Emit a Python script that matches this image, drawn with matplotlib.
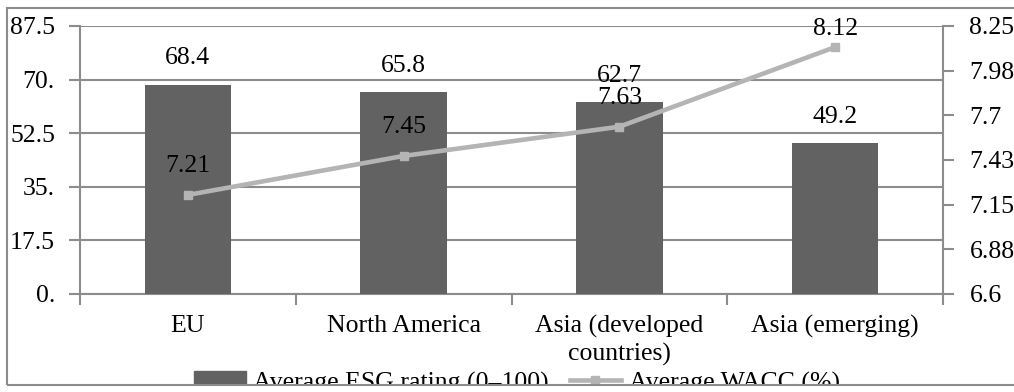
import matplotlib
matplotlib.use("Agg")
import matplotlib.pyplot as plt
from matplotlib.patches import Rectangle
from matplotlib.lines import Line2D

# Data
regions = ["EU", "North America", "Asia (developed\ncountries)", "Asia (emerging)"]
esg_rating = [68.4, 65.8, 62.7, 49.2]
wacc = [7.21, 7.45, 7.63, 8.12]
left_ticks = [0, 17.5, 35, 52.5, 70, 87.5]
left_tick_labels = ["0.", "17.5", "35.", "52.5", "70.", "87.5"]
right_ticks = [6.6, 6.875, 7.15, 7.425, 7.7, 7.975, 8.25]
right_tick_labels = ["6.6", "6.88", "7.15", "7.43", "7.7", "7.98", "8.25"]

plt.rcParams["font.family"] = ["Liberation Serif", "DejaVu Serif"]
FS = 18.5
GRID = "#8c8c8c"
BAR = "#626262"
LINE = "#b4b4b4"

W, H = 1014, 392
fig = plt.figure(figsize=(W / 100, H / 100), dpi=100)
ax = fig.add_axes([80 / W, 1 - 294 / H, (943 - 80) / W, (294 - 26) / H])

x = list(range(len(regions)))
ax.bar(x, esg_rating, width=0.4, color=BAR, zorder=3)
ax.set_xlim(-0.5, len(regions) - 0.5)
ax.set_ylim(0, 87.5)
ax.set_yticks(left_ticks)
ax.set_yticklabels(left_tick_labels, fontsize=FS)
ax.set_xticks(x)
ax.set_xticklabels(regions, fontsize=FS, linespacing=1.3)
ax.set_xticks([i - 0.5 for i in range(len(regions) + 1)], minor=True)
ax.tick_params(axis="x", which="major", length=0, pad=15)
ax.tick_params(axis="x", which="minor", length=8, width=1.5, color=GRID)
ax.tick_params(axis="y", length=8, width=1.5, color=GRID, pad=10)
ax.grid(axis="y", color=GRID, linewidth=1.5, zorder=0)
ax.set_axisbelow(True)
for side in ["top", "right"]:
    ax.spines[side].set_visible(False)
for side in ["left", "bottom"]:
    ax.spines[side].set_color(GRID)
    ax.spines[side].set_linewidth(1.5)

for xi, v in zip(x, esg_rating):
    ax.annotate(f"{v}", (xi, v), xytext=(0, 19), textcoords="offset points",
                ha="center", va="center", fontsize=FS)

ax2 = ax.twinx()
ax2.plot(x, wacc, color=LINE, linewidth=3.3, marker="s", markersize=6, zorder=4)
ax2.set_ylim(6.6, 8.25)
ax2.set_yticks(right_ticks)
ax2.set_yticklabels(right_tick_labels, fontsize=FS)
ax2.tick_params(axis="y", length=8, width=1.5, color=GRID, pad=11)
for side in ["top", "left", "bottom"]:
    ax2.spines[side].set_visible(False)
ax2.spines["right"].set_color(GRID)
ax2.spines["right"].set_linewidth(1.5)

wacc_offsets = [21, 21, 21, 13]
for xi, v, off in zip(x, wacc, wacc_offsets):
    ax2.annotate(f"{v}", (xi, v), xytext=(0, off), textcoords="offset points",
                 ha="center", va="center", fontsize=FS)

handles = [
    Rectangle((0, 0), 1, 1, color=BAR),
    Line2D([0], [0], color=LINE, linewidth=3.3, marker="s", markersize=6),
]
fig.legend(handles, ["Average ESG rating (0\u2013100)", "Average WACC (%)"],
           loc="center", bbox_to_anchor=(517 / W, 1 - 383 / H), ncol=2,
           frameon=False, fontsize=FS, handlelength=2.0, handletextpad=0.3,
           columnspacing=0.8, borderaxespad=0, borderpad=0)

# white band below the frame, then the frame itself
fig.add_artist(Rectangle((0, 0), 1, 1 - 386 / H, transform=fig.transFigure,
                         facecolor="white", edgecolor="none", zorder=20))
fig.add_artist(Rectangle((7 / W, 1 - 385 / H), 1.0, (385 - 8) / H,
                         transform=fig.transFigure, facecolor="none",
                         edgecolor="#8c8c8c", linewidth=1.5, zorder=21))

fig.savefig("out.png", dpi=100)
